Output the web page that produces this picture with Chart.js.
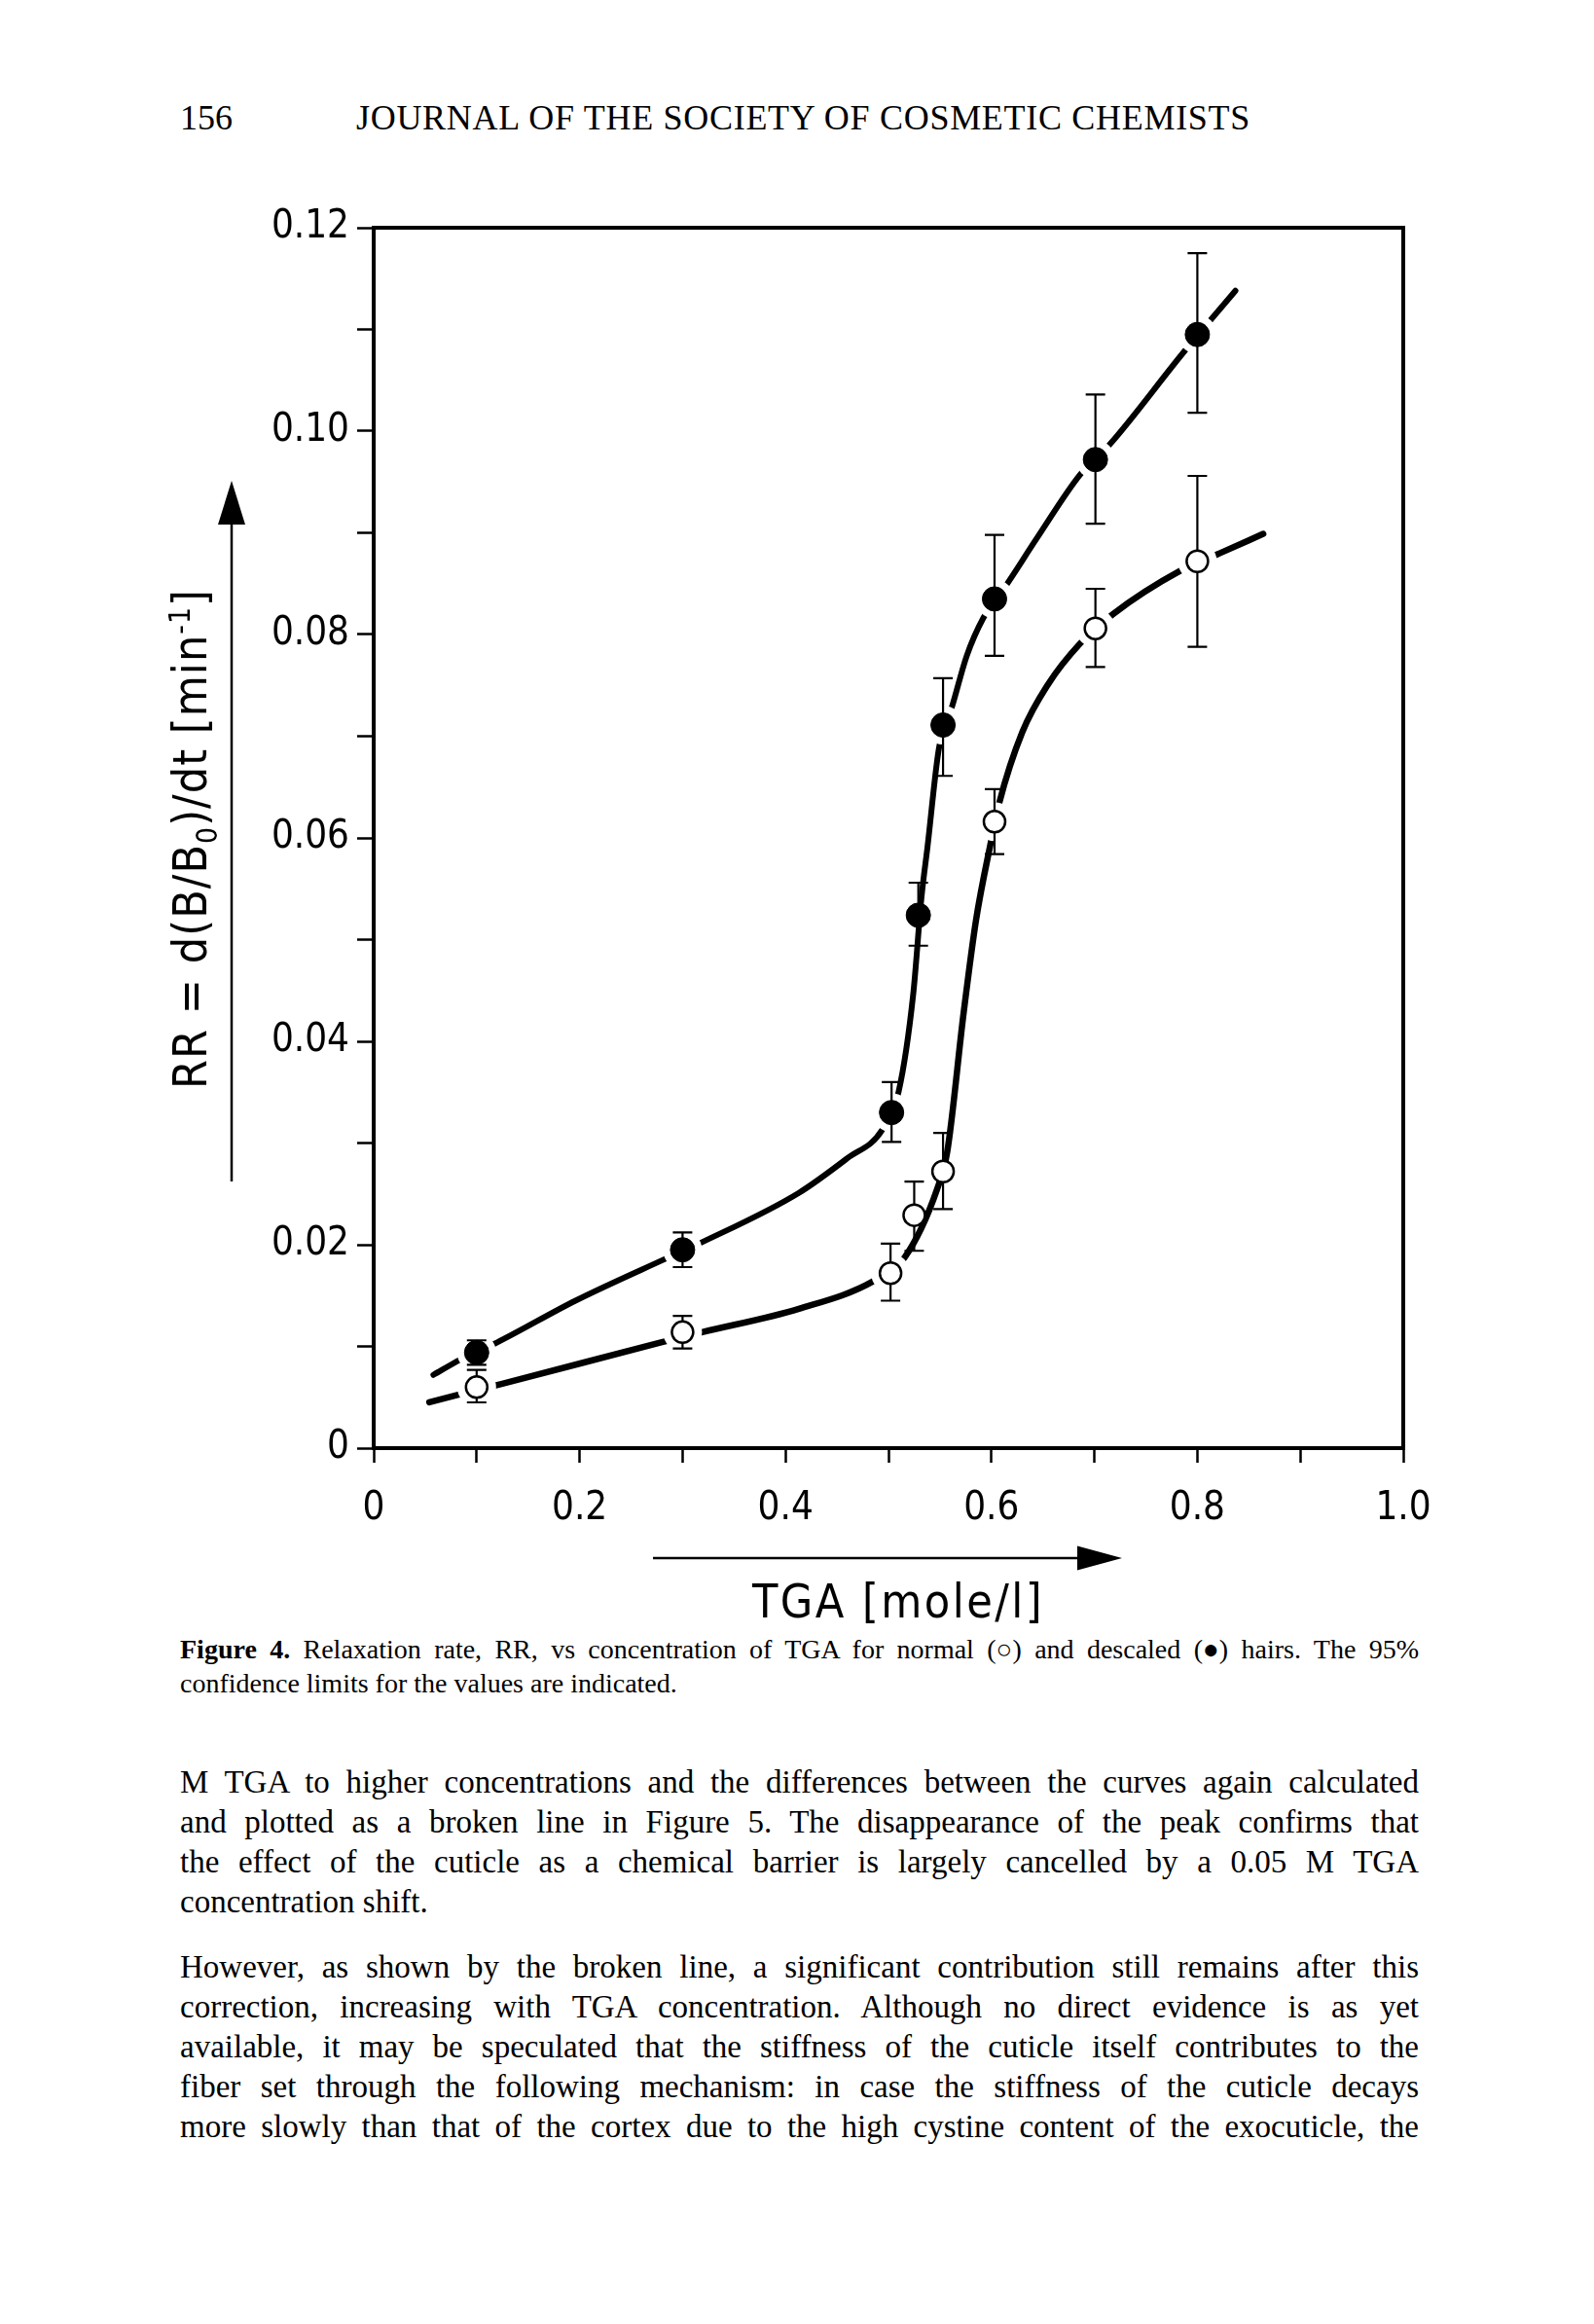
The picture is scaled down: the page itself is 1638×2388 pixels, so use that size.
<!DOCTYPE html>
<html>
<head>
<meta charset="utf-8">
<script src="https://cdn.jsdelivr.net/npm/chart.js@4.4.1/dist/chart.umd.min.js"></script>
<style>
  html, body { margin: 0; padding: 0; background: #fff; }
  body { width: 1638px; height: 2388px; position: relative; overflow: hidden; color: #000; }
  .t { position: absolute; white-space: nowrap; line-height: 1; }
  .serif { font-family: 'Liberation Serif', 'Times New Roman', serif; }
  .din { font-family: 'DejaVu Sans Condensed', 'Liberation Sans Narrow', sans-serif; }
  .din sub, .din sup { font-size: 0.62em; line-height: 0; }
  #wrap { position: absolute; left: 0; top: 180px; width: 1638px; height: 1480px; }
</style>
</head>
<body>
<div id="pageNo" class="t serif" style="font-size:36px">156</div>
<div id="runHead" class="t serif" style="font-size:36px">JOURNAL OF THE SOCIETY OF COSMETIC CHEMISTS</div>

<div id="wrap"><canvas id="graficoRR"></canvas></div>

<div id="yTitle" class="t din" style="font-size:48px">RR = d(B/B<sub>0</sub>)/dt [min<sup>-1</sup>]</div>
<div id="xTitle" class="t din" style="font-size:48px">TGA [mole/l]</div>

<div id="cap1" class="t serif" style="font-size:28px"><b>Figure 4.</b> Relaxation rate, RR, vs concentration of TGA for normal (○) and descaled (●) hairs. The 95%</div>
<div id="cap2" class="t serif" style="font-size:28px">confidence limits for the values are indicated.</div>

<div id="texto"></div>

<script>
// Tick labels
const xTickLabels = ['0', '', '0.2', '', '0.4', '', '0.6', '', '0.8', '', '1.0'];
const yTickLabels = ['0', '', '0.02', '', '0.04', '', '0.06', '', '0.08', '', '0.10', '', '0.12'];

// Normal hair (open circles)
const tgaNormal = [0.1, 0.3, 0.502, 0.525, 0.553, 0.603, 0.701, 0.8];
const rrNormal = [0.0060, 0.0114, 0.0172, 0.0229, 0.0272, 0.0616, 0.0806, 0.0872];
const lowNormal = [0.0045, 0.0098, 0.0145, 0.0194, 0.0235, 0.0584, 0.0768, 0.0788];
const highNormal = [0.0077, 0.0130, 0.0201, 0.0262, 0.0310, 0.0648, 0.0845, 0.0956];

// Descaled hair (filled circles)
const tgaDescaled = [0.1, 0.3, 0.503, 0.529, 0.553, 0.603, 0.701, 0.8];
const rrDescaled = [0.0094, 0.0195, 0.0330, 0.0524, 0.0711, 0.0835, 0.0972, 0.1095];
const lowDescaled = [0.0082, 0.0178, 0.0301, 0.0494, 0.0661, 0.0779, 0.0909, 0.1018];
const highDescaled = [0.0106, 0.0212, 0.0360, 0.0556, 0.0757, 0.0898, 0.1036, 0.1175];

// Hand-drawn curves
const curveNormalX = [0.054, 0.084, 0.124, 0.279, 0.319, 0.413, 0.485, 0.516, 0.547, 0.557, 0.573, 0.585, 0.5995, 0.6075, 0.63, 0.655, 0.686, 0.718, 0.784, 0.822, 0.864];
const curveNormalY = [0.0045, 0.0053, 0.0063, 0.0104, 0.0114, 0.0137, 0.0164, 0.0188, 0.0254, 0.0291, 0.0428, 0.0519, 0.0596, 0.0634, 0.0704, 0.0751, 0.0791, 0.0820, 0.0863, 0.0880, 0.0899];
const curveDescaledX = [0.058, 0.084, 0.12, 0.196, 0.283, 0.32, 0.413, 0.46, 0.494, 0.51, 0.524, 0.532, 0.538, 0.549, 0.562, 0.576, 0.592, 0.614, 0.645, 0.686, 0.715, 0.787, 0.837];
const curveDescaledY = [0.0072, 0.0087, 0.0104, 0.0145, 0.0186, 0.0203, 0.0251, 0.0285, 0.0313, 0.0351, 0.0446, 0.0541, 0.0592, 0.0688, 0.0730, 0.0779, 0.0816, 0.0848, 0.0896, 0.0957, 0.0987, 0.1078, 0.1138];

const bodyLines = [
    ['M TGA to higher concentrations and the differences between the curves again calculated', 1842, true],
    ['and plotted as a broken line in Figure 5. The disappearance of the peak confirms that', 1883, true],
    ['the effect of the cuticle as a chemical barrier is largely cancelled by a 0.05 M TGA', 1924, true],
    ['concentration shift.', 1965, false],
    ['However, as shown by the broken line, a significant contribution still remains after this', 2032, true],
    ['correction, increasing with TGA concentration. Although no direct evidence is as yet', 2073, true],
    ['available, it may be speculated that the stiffness of the cuticle itself contributes to the', 2114, true],
    ['fiber set through the following mechanism: in case the stiffness of the cuticle decays', 2155, true],
    ['more slowly than that of the cortex due to the high cystine content of the exocuticle, the', 2196, true]
];

const toPoints = (xs, ys) => xs.map((x, i) => ({ x, y: ys[i] }));
const tickFont = { family: "'Liberation Sans Narrow', 'DejaVu Sans Condensed', sans-serif", size: 40 };
const noGap = [3, 4, 11]; // markers the curve runs straight through

const frameAndBars = {
    id: 'frameAndBars',
    afterDatasetDraw(chart, args) {
        if (args.index !== 2) return;
        const { ctx, scales: { x, y } } = chart;
        const drawBars = (xs, lo, hi) => xs.forEach((v, i) => {
            const px = x.getPixelForValue(v);
            const p1 = y.getPixelForValue(lo[i]);
            const p2 = y.getPixelForValue(hi[i]);
            ctx.beginPath();
            ctx.moveTo(px, p1); ctx.lineTo(px, p2);
            ctx.moveTo(px - 10, p1); ctx.lineTo(px + 10, p1);
            ctx.moveTo(px - 10, p2); ctx.lineTo(px + 10, p2);
            ctx.stroke();
        });
        ctx.save();
        ctx.strokeStyle = '#000';
        ctx.lineWidth = 2.2;
        drawBars(tgaNormal, lowNormal, highNormal);
        drawBars(tgaDescaled, lowDescaled, highDescaled);
        ctx.restore();
    },
    afterDraw(chart) {
        const { ctx, chartArea: a } = chart;
        ctx.save();
        ctx.strokeStyle = '#000';
        ctx.fillStyle = '#000';
        ctx.lineWidth = 4;
        ctx.strokeRect(a.left, a.top, a.right - a.left, a.bottom - a.top);

        // arrow beside the y title
        ctx.lineWidth = 2.5;
        const ax = a.left - 146;
        ctx.beginPath();
        ctx.moveTo(ax, a.top + 980); ctx.lineTo(ax, a.top + 300);
        ctx.stroke();
        ctx.beginPath();
        ctx.moveTo(ax, a.top + 260); ctx.lineTo(ax - 14, a.top + 305); ctx.lineTo(ax + 14, a.top + 305);
        ctx.closePath(); ctx.fill();

        // arrow above the x title
        const ay = a.bottom + 113;
        ctx.beginPath();
        ctx.moveTo(a.left + 287, ay); ctx.lineTo(a.left + 730, ay);
        ctx.stroke();
        ctx.beginPath();
        ctx.moveTo(a.left + 769, ay); ctx.lineTo(a.left + 723, ay - 12.5); ctx.lineTo(a.left + 723, ay + 12.5);
        ctx.closePath(); ctx.fill();
        ctx.restore();
    }
};

const axisGrid = len => ({ drawOnChartArea: false, drawTicks: true, tickLength: len, tickWidth: 2.5, tickColor: '#000', color: '#000' });
const axisBorder = { display: true, color: '#000', width: 4 };

new Chart(document.getElementById('graficoRR'), {
    type: 'scatter',
    data: {
        datasets: [{
            data: toPoints(curveDescaledX, curveDescaledY),
            showLine: true, borderColor: '#000', borderWidth: 6, pointRadius: 0,
            cubicInterpolationMode: 'monotone', borderCapStyle: 'round', borderJoinStyle: 'round', order: 4
        }, {
            data: toPoints(curveNormalX, curveNormalY),
            showLine: true, borderColor: '#000', borderWidth: 6.5, pointRadius: 0,
            cubicInterpolationMode: 'monotone', borderCapStyle: 'round', borderJoinStyle: 'round', order: 4
        }, {
            // white gap round each marker
            data: toPoints(tgaNormal, rrNormal).concat(toPoints(tgaDescaled, rrDescaled)),
            pointRadius: c => noGap.includes(c.dataIndex) ? 0 : 20,
            pointBackgroundColor: '#fff', pointBorderColor: '#fff', pointBorderWidth: 0, order: 3
        }, {
            data: toPoints(tgaDescaled, rrDescaled),
            pointRadius: 12.5, pointBackgroundColor: '#000', pointBorderColor: '#000', pointBorderWidth: 1, order: 1
        }, {
            data: toPoints(tgaNormal, rrNormal),
            pointRadius: 11, pointBackgroundColor: '#fff', pointBorderColor: '#000', pointBorderWidth: 2.5, order: 1
        }]
    },
    options: {
        responsive: true,
        maintainAspectRatio: false,
        devicePixelRatio: 1,
        animation: false,
        events: [],
        layout: { autoPadding: false, padding: { left: 244, right: 196, top: 54, bottom: 62 } },
        plugins: { legend: { display: false }, tooltip: { enabled: false } },
        scales: {
            x: {
                type: 'linear', min: 0, max: 1,
                afterFit(s) { s.height = 110; s.paddingLeft = 0; s.paddingRight = 0; },
                ticks: { stepSize: 0.1, autoSkip: false, maxRotation: 0, padding: 24, color: '#000', font: tickFont,
                    callback: (v, i) => xTickLabels[i] },
                grid: axisGrid(15),
                border: axisBorder
            },
            y: {
                type: 'linear', min: 0, max: 0.12,
                afterFit(s) { s.width = 140; s.paddingTop = 0; s.paddingBottom = 0; },
                ticks: { stepSize: 0.01, autoSkip: false, padding: 8, color: '#000', font: tickFont,
                    callback: (v, i) => yTickLabels[i] },
                grid: axisGrid(17),
                border: axisBorder
            }
        }
    },
    plugins: [frameAndBars]
});

// Page text
function baselineOffset(el) {
    const probe = document.createElement('span');
    probe.style.cssText = 'display:inline-block;width:0;height:0;vertical-align:baseline';
    el.appendChild(probe);
    const off = probe.getBoundingClientRect().top - el.getBoundingClientRect().top;
    probe.remove();
    return off;
}
function place(el, left, baseline) {
    el.style.left = left + 'px';
    el.style.top = '0px';
    el.style.top = (baseline - baselineOffset(el)) + 'px';
}
function justify(el, width) {
    const gaps = (el.textContent.match(/ /g) || []).length;
    const w = el.getBoundingClientRect().width;
    if (gaps) el.style.wordSpacing = ((width - w) / gaps) + 'px';
}
function spread(el, width) {
    const w = el.getBoundingClientRect().width;
    el.style.letterSpacing = ((width - w) / el.textContent.length) + 'px';
}

const textLeft = 185, textWidth = 1273;
const contenedor = document.getElementById('texto');
bodyLines.forEach(([txt, base, full]) => {
    const d = document.createElement('div');
    d.className = 't serif';
    d.style.fontSize = '33px';
    d.textContent = txt;
    contenedor.appendChild(d);
    if (full) justify(d, textWidth);
    place(d, textLeft, base);
});

const cap1 = document.getElementById('cap1');
justify(cap1, textWidth);
place(cap1, textLeft, 1704);
place(document.getElementById('cap2'), textLeft, 1739);

place(document.getElementById('pageNo'), 185, 133);
const runHead = document.getElementById('runHead');
spread(runHead, 919);
place(runHead, 366, 133);

const xTitle = document.getElementById('xTitle');
spread(xTitle, 300);
place(xTitle, 773, 1662);

const yTitle = document.getElementById('yTitle');
spread(yTitle, 514);
yTitle.style.left = '0px';
yTitle.style.top = '0px';
const yb = baselineOffset(yTitle);
const yr = yTitle.getBoundingClientRect();
const cx = 212 + yr.height / 2 - yb, cy = 862;
yTitle.style.left = (cx - yr.width / 2) + 'px';
yTitle.style.top = (cy - yr.height / 2) + 'px';
yTitle.style.transform = 'rotate(-90deg)';
</script>
</body>
</html>
